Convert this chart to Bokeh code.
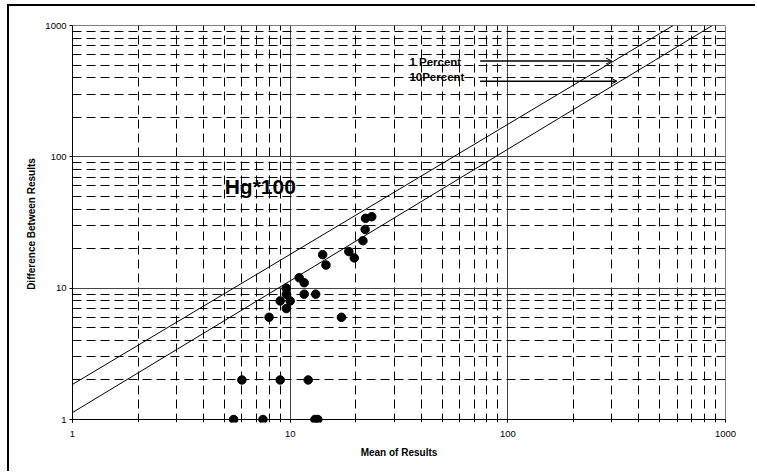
from bokeh.plotting import figure
from bokeh.models import (ColumnDataSource, FixedTicker, Arrow, OpenHead,
                          Span, CustomJSTickFormatter)
from bokeh.core.properties import value
from bokeh.embed import file_html
from bokeh.resources import INLINE

# ---- data ----
mean_results = [22.2, 23.7, 22.1, 21.6, 18.6, 19.7, 14.1, 14.6, 11.0, 11.6,
                9.6, 9.6, 11.6, 13.1, 9.0, 10.0, 9.6, 8.0, 17.2,
                6.0, 9.0, 12.1, 5.5, 7.5, 13.0, 13.4]
diff_results = [34, 35, 28, 23, 19, 17, 18, 15, 12, 11,
                10, 9, 9, 9, 8, 8, 7, 6, 6,
                2, 2, 2, 1, 1, 1, 1]

line_1pct_x = [1, 575]
line_1pct_y = [1.85, 1000]
line_10pct_x = [1, 870]
line_10pct_y = [1.13, 1000]

label_texts = ["1 Percent", "10Percent"]
label_x = [35.3, 35.3]
label_y = [524, 405]
arrow_x_start = [74.6, 74.6]
arrow_x_end = [301, 317]
arrow_y = [536, 377]

title_text = ["Hg*100"]
title_x = [5.0]
title_y = [59]

major_ticks = [1, 10, 100, 1000]
minor_ticks = [m * d for d in (1, 10, 100) for m in range(2, 10)]

FONT = "Liberation Sans"

# frame bottom sits 3px below y=1 so the markers on y=1 are not cut
p = figure(width=748, height=467, x_axis_type="log", y_axis_type="log",
           x_range=(1, 1000), y_range=(0.9488, 1000),
           output_backend="svg", toolbar_location=None,
           min_border_left=63, min_border_right=32,
           min_border_top=19, min_border_bottom=51)
p.background_fill_color = "white"
p.border_fill_color = "white"
p.outline_line_color = None
# outer frame: only the left and top edges are visible in the reference
p.styles = {"border-left": "2px solid black", "border-top": "2px solid black",
            "margin-left": "7px", "margin-top": "4px"}

for ax in (p.xaxis[0], p.yaxis[0]):
    ax.ticker = FixedTicker(ticks=major_ticks, minor_ticks=minor_ticks)
    ax.major_tick_line_color = "black"
    ax.minor_tick_out = 0
    ax.minor_tick_in = 0
    ax.major_label_text_font = FONT
    ax.major_label_text_font_size = "9.5px"
    ax.major_label_text_color = "black"
    ax.axis_label_text_font = FONT
    ax.axis_label_text_font_size = "10px"
    ax.axis_label_text_font_style = "bold"
    ax.axis_label_text_color = "black"

p.xaxis.major_tick_in = 3
p.xaxis.major_tick_out = 0
p.xaxis.axis_line_color = None
p.yaxis.major_tick_in = 0
p.yaxis.major_tick_out = 3
p.yaxis.axis_line_color = "black"

p.xaxis.axis_label = "Mean of Results"
p.yaxis.axis_label = "Difference Between Results"
p.xaxis.major_label_standoff = 8
p.xaxis.axis_label_standoff = 7
p.yaxis.major_label_standoff = 3
p.yaxis.axis_label_standoff = 5

fmt = CustomJSTickFormatter(code="return String(Math.round(tick));")
p.xaxis.formatter = fmt
p.yaxis.formatter = fmt

for g in (p.xgrid[0], p.ygrid[0]):
    g.grid_line_color = "#444444"
    g.grid_line_width = 1
    g.minor_grid_line_color = "black"
    g.minor_grid_line_width = 1
    g.minor_grid_line_dash = "9 5"

# axis line at y=1 and frame edges at 1000
p.add_layout(Span(location=1, dimension="width", line_color="black", line_width=1))
p.add_layout(Span(location=1000, dimension="width", line_color="black", line_width=1))
p.add_layout(Span(location=1000, dimension="height", line_color="black", line_width=1))

# diagonal reference lines
p.line(line_1pct_x, line_1pct_y, line_color="black", line_width=1)
p.line(line_10pct_x, line_10pct_y, line_color="black", line_width=1)

# data points
p.scatter(mean_results, diff_results, size=8.5, fill_color="black",
          line_color="black")

# labels
p.text(x=label_x, y=label_y, text=label_texts, text_font=value(FONT),
       text_font_size="11.5px", text_font_style="bold", text_color="black",
       text_baseline="middle", text_align="left")
p.text(x=title_x, y=title_y, text=title_text, text_font=value(FONT),
       text_font_size="21px", text_font_style="bold", text_color="black",
       text_baseline="alphabetic", text_align="left")

arrow_src = ColumnDataSource(dict(xs=arrow_x_start, xe=arrow_x_end, y=arrow_y))
p.add_layout(Arrow(end=OpenHead(size=6, line_width=1, line_color="black"),
                   x_start="xs", y_start="y", x_end="xe", y_end="y",
                   source=arrow_src, line_width=1.5, line_color="black"))

open("out.html", "w").write(file_html(p, INLINE))
